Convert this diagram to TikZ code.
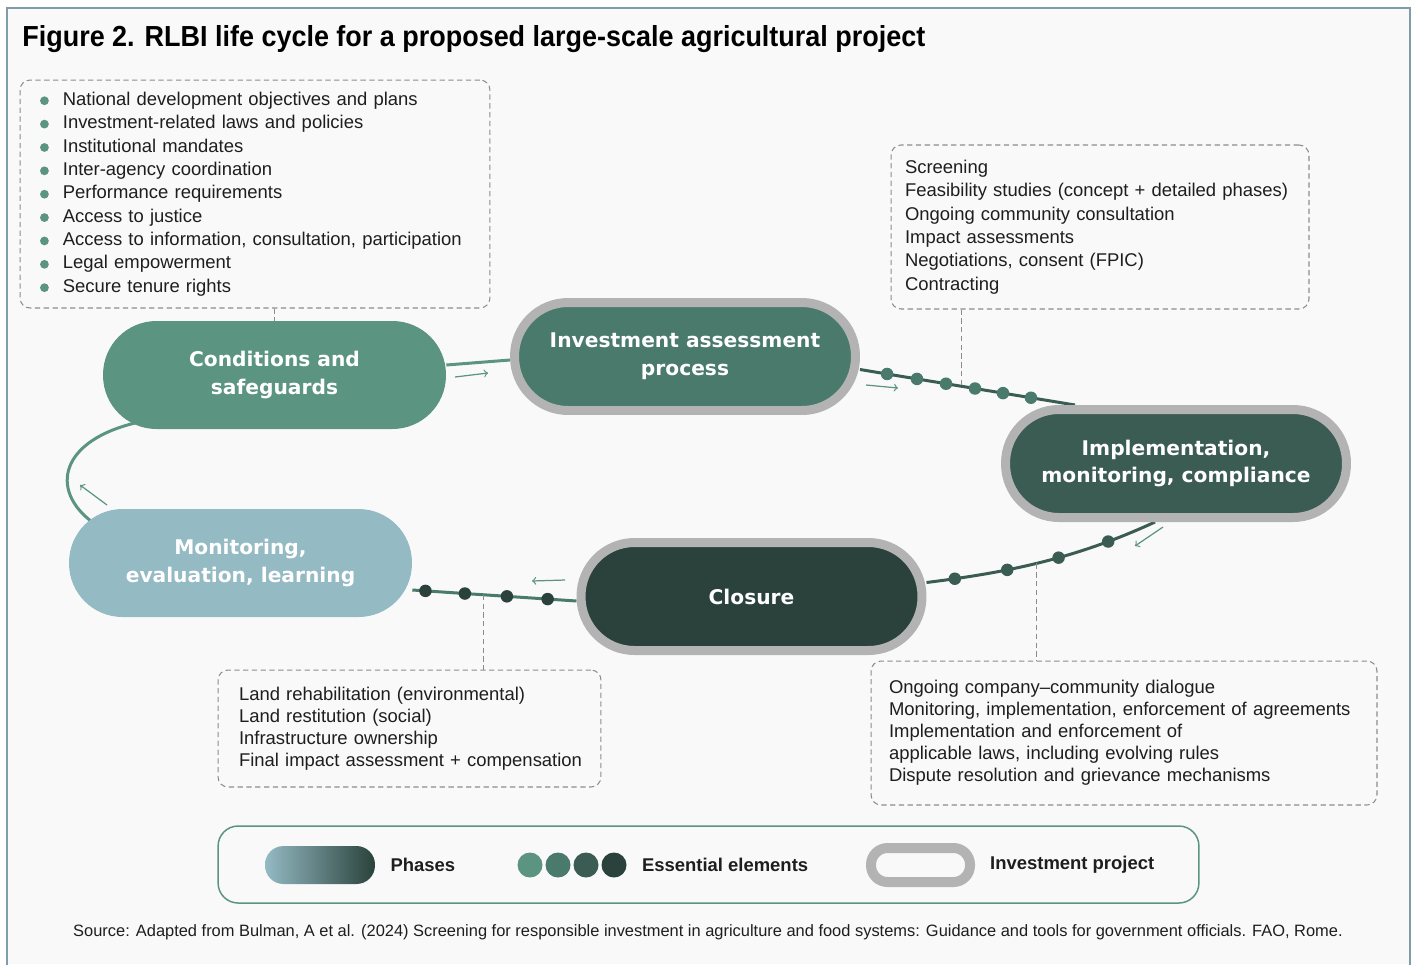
\documentclass[tikz,border=0pt]{standalone}
\usepackage{fontspec}
\setmainfont{Liberation Sans}
\newfontfamily\titlefont[FakeStretch=0.93]{Liberation Sans}
\newfontfamily\heavyfont{DejaVu Sans}
\usepackage{tikz}
\usetikzlibrary{shapes,arrows,positioning}
\pgfdeclarelayer{background}
\pgfsetlayers{background,main}
\definecolor{c1}{HTML}{94BAC4}
\definecolor{c2}{HTML}{5C9482}
\definecolor{c3}{HTML}{4A7A6B}
\definecolor{c4}{HTML}{3A5C52}
\definecolor{c5}{HTML}{2A423B}
\definecolor{ringgray}{HTML}{B3B3B3}
\definecolor{dashgray}{HTML}{8C8C8C}
\definecolor{framecol}{HTML}{7E9DA8}
\definecolor{bgcol}{HTML}{F9F9F9}
\definecolor{txt}{HTML}{1E1E1E}
\newcommand{\bodyfont}{\fontsize{10.5}{13.3}\selectfont}
\newcommand{\bodyfontb}{\fontsize{10.5}{12.5}\selectfont}
\newcommand{\phasefont}{\heavyfont\fontsize{11.5}{15.8}\selectfont\bfseries}
\newcommand{\bul}{\makebox[13pt][l]{\tikz[baseline=-2.6pt]\fill[c2] (2.5pt,0) circle (2.5pt);}}
\tikzstyle{phase}=[rectangle, rounded corners=1.07cm, align=center, text=white, font=\phasefont, minimum width=6.86cm, minimum height=2.16cm, inner sep=0pt]
\tikzstyle{project}=[phase, draw=ringgray, line width=0.18cm, minimum width=6.82cm]
\tikzstyle{infobox}=[rectangle, draw=dashgray, dash pattern=on 3pt off 2pt, line width=0.6pt, rounded corners=0.2cm, align=left, text=txt, inner ysep=0pt]
\tikzstyle{leader}=[draw=dashgray, dash pattern=on 3pt off 2pt, line width=0.6pt]
\tikzstyle{dotB}=[circle, inner sep=0pt, minimum size=0.25cm, fill=c3]
\tikzstyle{dotC}=[dotB, fill=c4]
\tikzstyle{dotD}=[dotB, fill=c5]
\tikzstyle{cue}=[-to, line width=0.7pt, draw=c2]
\tikzstyle{legtext}=[font=\fontsize{10.5}{12}\selectfont\bfseries, text=txt]

\begin{document}
\begin{tikzpicture}[x=0.02cm, y=-0.02cm]
\useasboundingbox (0,0) rectangle (1415,964);

\node[anchor=base west, inner sep=0pt, font=\titlefont\bfseries\fontsize{16.5}{20}\selectfont, text=black] (title) at (22,46) {Figure 2. RLBI life cycle for a proposed large-scale agricultural project};

% phases
\node[phase, fill=c2] (cond) at (274.5,375) {Conditions and\\ safeguards};
\node[project, fill=c3] (inv) at (685,356.5) {Investment assessment\\ process};
\node[project, fill=c4] (impl) at (1176,463.5) {Implementation,\\ monitoring, compliance};
\node[project, fill=c5] (clos) at (751.5,596.5) {Closure};
\node[phase, fill=c1] (mon) at (240.5,563) {Monitoring,\\ evaluation, learning};

% essential elements
\node[infobox, minimum width=9.4cm, minimum height=4.56cm, text width=8.6cm, inner xsep=0.4cm, font=\bodyfont] (condbox) at (255,194) {\bul National development objectives and plans\\ \bul Investment-related laws and policies\\ \bul Institutional mandates\\ \bul Inter-agency coordination\\ \bul Performance requirements\\ \bul Access to justice\\ \bul Access to information, consultation, participation\\ \bul Legal empowerment\\ \bul Secure tenure rights};
\node[infobox, minimum width=8.36cm, minimum height=3.28cm, text width=7.8cm, inner xsep=0.28cm, font=\bodyfont] (invbox) at (1100,227) {Screening\\ Feasibility studies (concept + detailed phases)\\ Ongoing community consultation\\ Impact assessments\\ Negotiations, consent (FPIC)\\ Contracting};
\node[infobox, minimum width=7.66cm, minimum height=2.34cm, text width=6.82cm, inner xsep=0.42cm, font=\bodyfontb] (closbox) at (409.5,728.5) {Land rehabilitation (environmental)\\ Land restitution (social)\\ Infrastructure ownership\\ \mbox{Final impact assessment + compensation}};
\node[infobox, minimum width=10.12cm, minimum height=2.88cm, text width=9.4cm, inner xsep=0.36cm, font=\bodyfontb] (implbox) at (1124,733) {Ongoing company–community dialogue\\ Monitoring, implementation, enforcement of agreements\\ Implementation and enforcement of\\ applicable laws, including evolving rules\\ Dispute resolution and grievance mechanisms};

% direction cues
\coordinate (q1a) at (455,377); \coordinate (q1b) at (488,373);
\coordinate (q2a) at (866,385); \coordinate (q2b) at (898,388);
\coordinate (q3a) at (1163,527); \coordinate (q3b) at (1135,546);
\coordinate (q4a) at (565,580); \coordinate (q4b) at (532,581);
\coordinate (q5a) at (107,505); \coordinate (q5b) at (80,485);
\draw[cue] (q1a) -- (q1b);
\draw[cue] (q2a) -- (q2b);
\draw[cue] (q3a) -- (q3b);
\draw[cue] (q4a) -- (q4b);
\draw[cue] (q5a) -- (q5b);

% legend
\node[draw=c2, line width=0.85pt, rounded corners=0.4cm, minimum width=19.62cm, minimum height=1.54cm] (legend) at (708.5,864.5) {};
\node[rectangle, rounded corners=0.37cm, left color=c1, middle color=c2, right color=c5, minimum width=2.2cm, minimum height=0.76cm] (lgphase) at (320,865) {};
\node[legtext, right=0.18cm of lgphase] (lgphasetxt) {Phases};
\foreach \i/\x/\c in {1/530/c2,2/558/c3,3/586/c4,4/614/c5}
  \node[circle, fill=\c, minimum size=0.5cm, inner sep=0pt] (lgd\i) at (\x,865) {};
\node[legtext, right=0.18cm of lgd4] (lgdtxt) {Essential elements};
\node[rectangle, rounded corners=0.33cm, draw=ringgray, line width=0.2cm, fill=bgcol, minimum width=1.98cm, minimum height=0.68cm] (lgproj) at (920.5,865) {};
\node[legtext, right=0.18cm of lgproj] (lgprojtxt) {Investment project};

\node[font=\fontsize{9.35}{11}\selectfont, text=txt] (source) at (708,932) {Source: Adapted from Bulman, A et al. (2024) Screening for responsible investment in agriculture and food systems: Guidance and tools for government officials. FAO, Rome.};

\begin{pgfonlayer}{background}
 \fill[white] (0,0) rectangle (1415,964);
 \fill[bgcol] (7,8) rectangle (1410,964);
 \draw[framecol, line width=0.04cm] (7,975) -- (7,8) -- (1410,8) -- (1410,975);
 \draw[c2, line width=0.06cm] ([yshift=0.2cm]cond.east) -- ([yshift=-0.07cm]inv.west);
 \draw[c4, line width=0.06cm] ([yshift=-0.26cm]inv.east) -- ([xshift=-2.02cm]impl.north)
   node[dotB, pos=0.126] (ia1) {} node[dotB, pos=0.265] (ia2) {} node[dotB, pos=0.4] (ia3) {}
   node[dotB, pos=0.535] (ia4) {} node[dotB, pos=0.665] (ia5) {} node[dotB, pos=0.795] (ia6) {}
   coordinate[pos=0.47] (invlead);
 \draw[c4, line width=0.06cm] ([xshift=-0.42cm]impl.south) .. controls +(-80,37) and +(80,-10) .. ([yshift=0.28cm]clos.east)
   node[dotC, pos=0.2] (im1) {} node[dotC, pos=0.42] (im2) {} node[dotC, pos=0.65] (im3) {} node[dotC, pos=0.88] (im4) {}
   coordinate[pos=0.52] (impllead);
 \draw[c3, line width=0.06cm] ([yshift=-0.09cm]clos.west) -- ([yshift=-0.54cm]mon.east)
   node[dotD, pos=0.176] (cl1) {} node[dotD, pos=0.424] (cl2) {} node[dotD, pos=0.68] (cl3) {} node[dotD, pos=0.92] (cl4) {}
   coordinate[pos=0.564] (closlead);
 \draw[c2, line width=0.06cm] ([xshift=0.46cm,yshift=-0.26cm]mon.north west) .. controls +(-42,-32) and +(-78,18) .. ([xshift=0.7cm,yshift=0.14cm]cond.south west);
 \draw[leader] (condbox.south -| cond.north) -- (cond.north);
 \draw[leader] (invlead |- invbox.south) -- (invlead);
 \draw[leader] (impllead) -- (impllead |- implbox.north);
 \draw[leader] (closlead) -- (closlead |- closbox.north);
\end{pgfonlayer}

\end{tikzpicture}
\end{document}
